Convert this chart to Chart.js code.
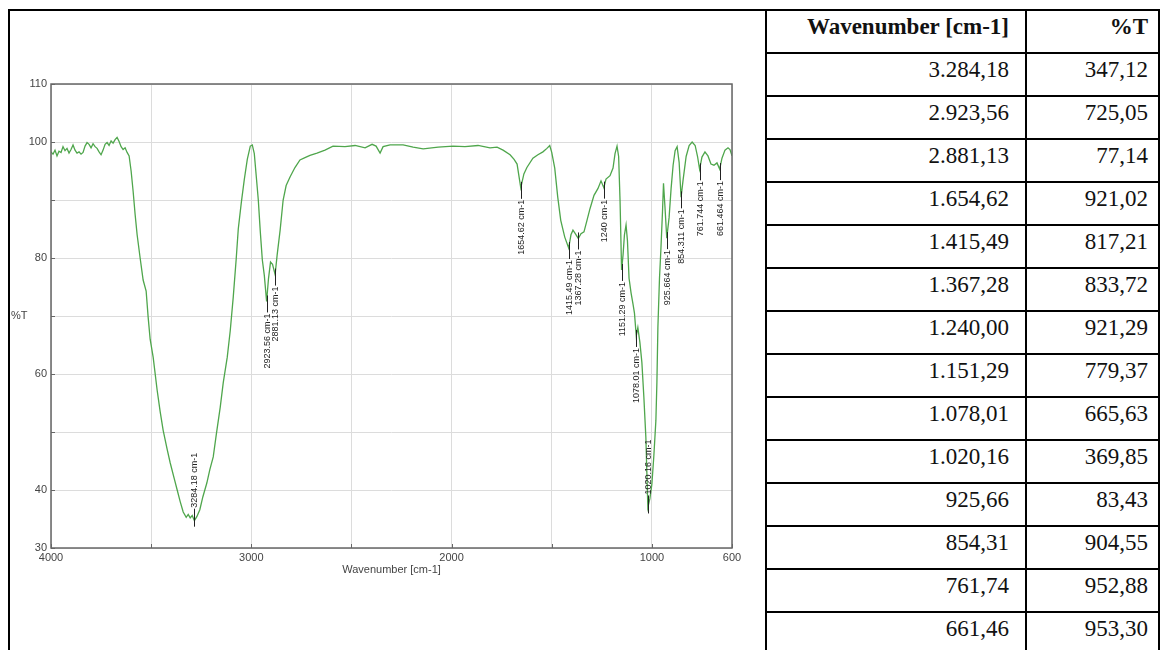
<!DOCTYPE html>
<html>
<head>
<meta charset="utf-8">
<script src="https://cdn.jsdelivr.net/npm/chart.js@4.4.1/dist/chart.umd.min.js"></script>
<style>
  html, body { margin: 0; padding: 0; background: #fff; }
  #page { position: relative; width: 1160px; height: 650px; overflow: hidden; }
  table.peaks {
    position: absolute; left: 8px; top: 9px;
    border-collapse: collapse; table-layout: fixed;
    font-family: "Liberation Serif", "Times New Roman", serif; font-size: 23px; color: #111;
  }
  table.peaks td, table.peaks th {
    border: 2px solid #000; padding: 4px 16px 0 0; height: 37px;
    text-align: right; vertical-align: top; white-space: nowrap; line-height: 24px;
  }
  table.peaks th { font-weight: bold; }
  table.peaks td.c2, table.peaks th.c2 { padding-right: 10px; }
  table.peaks td.chartcell { border-right: 2px solid #000; padding: 0; }
  #chartBox { position: absolute; left: 10px; top: 11px; width: 754px; height: 638px; }
</style>
</head>
<body>
<div id="page">
  <table class="peaks" id="peakTable">
    <colgroup><col style="width:757px"><col style="width:260px"><col style="width:133px"></colgroup>
    <tbody id="tableBody"></tbody>
  </table>
  <div id="chartBox"><canvas id="irChart"></canvas></div>
</div>
<script>
// spectrum
var wavenumbers = [
  4000, 3990, 3980, 3970, 3960, 3950, 3940, 3930, 3920, 3910, 3900, 3890, 3880, 3870, 3860, 3850,
  3840, 3830, 3820, 3810, 3800, 3790, 3780, 3770, 3760, 3750, 3740, 3730, 3720, 3710, 3700, 3690,
  3680, 3670, 3660, 3650, 3640, 3630, 3620, 3610, 3600, 3590, 3580, 3570, 3555, 3540, 3525, 3515,
  3505, 3490, 3470, 3455, 3440, 3420, 3405, 3385, 3370, 3355, 3340, 3325, 3315, 3305, 3295, 3284.18,
  3272, 3257, 3242, 3222, 3207, 3190, 3175, 3155, 3140, 3120, 3105, 3090, 3075, 3065, 3050, 3035,
  3020, 3005, 2995, 2985, 2975, 2965, 2955, 2945, 2935, 2923.56, 2914, 2904, 2894, 2881.13, 2871, 2856,
  2841, 2826, 2806, 2782, 2757, 2732, 2707, 2672, 2632, 2592, 2532, 2482, 2432, 2397, 2377, 2357,
  2342, 2307, 2242, 2192, 2142, 2067, 1993, 1933, 1868, 1808, 1773, 1743, 1708, 1688, 1673, 1654.62,
  1639, 1624, 1594, 1569, 1544, 1524, 1510, 1500, 1485, 1470, 1455, 1435, 1415.49, 1404, 1394, 1384,
  1367.28, 1354, 1339, 1324, 1309, 1289, 1269, 1254, 1240, 1229, 1209, 1194, 1184, 1174, 1166, 1159,
  1151.29, 1144, 1137, 1129, 1122, 1114, 1104, 1094, 1087, 1078.01, 1070, 1060, 1050, 1040, 1030, 1020.16,
  1010, 1000, 990, 980, 975, 970, 962, 955, 947, 942, 935, 925.66, 914, 904, 894, 884,
  874, 864, 854.31, 844, 829, 814, 799, 784, 772, 761.74, 750, 735, 720, 705, 690, 675,
  661.46, 650, 635, 620, 610, 600
];
var transmittance = [
  98.3, 97.9, 98.6, 97.6, 98.4, 98.2, 99.2, 98.5, 98.9, 98.1, 98.7, 99.5, 98.6, 98.1, 98.3, 97.9,
  98.2, 99.3, 99.9, 99.6, 99.0, 99.7, 99.2, 98.9, 98.3, 97.8, 98.6, 99.6, 99.9, 99.4, 100.2, 99.8,
  100.4, 100.8, 100.1, 99.2, 98.7, 99.0, 98.2, 97.6, 95.0, 91.5, 87.5, 84.0, 80.0, 76.2, 74.3, 69.8,
  66.0, 62.9, 57.2, 53.5, 50.3, 47.0, 44.7, 42.0, 40.0, 38.0, 36.2, 35.3, 35.8, 35.2, 35.6, 34.71,
  35.4, 36.6, 38.8, 41.2, 43.5, 45.7, 49.5, 54.3, 58.5, 62.9, 67.5, 73.3, 80.0, 85.0, 89.5, 93.5,
  97.0, 99.3, 99.5, 98.0, 94.0, 90.0, 84.5, 79.7, 77.0, 72.51, 76.5, 79.3, 78.9, 77.14, 80.5, 84.8,
  90.0, 92.5, 94.0, 95.6, 96.9, 97.3, 97.7, 98.1, 98.6, 99.3, 99.2, 99.4, 99.0, 99.6, 99.3, 98.1,
  99.2, 99.5, 99.5, 99.1, 98.8, 99.1, 99.3, 99.2, 99.4, 99.0, 99.1, 98.6, 97.8, 97.0, 96.2, 92.10,
  94.5, 95.6, 97.2, 97.8, 98.3, 98.9, 99.4, 98.2, 95.5, 90.5, 86.5, 83.6, 81.72, 84.0, 84.8, 84.3,
  83.37, 84.2, 84.5, 86.5, 88.5, 90.8, 92.0, 93.3, 92.13, 93.6, 94.2, 95.5, 98.0, 99.3, 97.5, 90.0,
  77.94, 80.5, 84.0, 85.7, 83.0, 76.5, 74.0, 72.0, 70.5, 66.56, 68.0, 65.5, 62.0, 56.0, 49.0, 36.99,
  38.5, 41.0, 46.0, 52.0, 58.5, 68.0, 76.5, 81.5, 88.0, 92.9, 89.0, 83.43, 87.0, 92.0, 96.0, 98.5,
  99.2, 96.5, 90.46, 93.5, 97.5, 99.4, 100.0, 99.4, 97.5, 95.29, 97.4, 98.3, 97.6, 96.2, 96.0, 96.4,
  95.33, 97.2, 98.6, 99.0, 98.7, 97.6
];

// peak picks
var peakWavenumbers = [3284.18, 2923.56, 2881.13, 1654.62, 1415.49, 1367.28, 1240, 1151.29, 1078.01, 1020.16, 925.664, 854.311, 761.744, 661.464];
var peakTransmittance = [34.71, 72.51, 77.14, 92.10, 81.72, 83.37, 92.13, 77.94, 66.56, 36.99, 83.43, 90.46, 95.29, 95.33];
var peakLabels = ["3284.18 cm-1", "2923.56 cm-1", "2881.13 cm-1", "1654.62 cm-1", "1415.49 cm-1", "1367.28 cm-1", "1240 cm-1",
  "1151.29 cm-1", "1078.01 cm-1", "1020.16 cm-1", "925.664 cm-1", "854.311 cm-1", "761.744 cm-1", "661.464 cm-1"];

// axes
var xTickValues = [4000, 3500, 3000, 2500, 2000, 1500, 1000, 600];
var xTickLabels = ["4000", "", "3000", "", "2000", "", "1000", "600"];
var yTickValues = [30, 40, 50, 60, 70, 80, 90, 100, 110];
var yTickLabels = ["30", "40", "", "60", "", "80", "", "100", "110"];

// table on the right
var tableHeaders = ["Wavenumber [cm-1]", "%T"];
var tableWavenumbers = ["3.284,18", "2.923,56", "2.881,13", "1.654,62", "1.415,49", "1.367,28", "1.240,00",
  "1.151,29", "1.078,01", "1.020,16", "925,66", "854,31", "761,74", "661,46"];
var tablePercentT = ["347,12", "725,05", "77,14", "921,02", "817,21", "833,72", "921,29",
  "779,37", "665,63", "369,85", "83,43", "904,55", "952,88", "953,30"];

function renderTable() {
    var rows = [];
    rows.push("<tr><td class='chartcell' rowspan='" + (tableWavenumbers.length + 1) + "'></td>" +
        "<th>" + tableHeaders[0] + "</th><th class='c2'>" + tableHeaders[1] + "</th></tr>");
    for (var i = 0; i < tableWavenumbers.length; i++) {
        rows.push("<tr><td>" + tableWavenumbers[i] + "</td><td class='c2'>" + tablePercentT[i] + "</td></tr>");
    }
    document.getElementById("tableBody").innerHTML = rows.join("");
}

var plotFrame = {
    id: "plotFrame",
    afterDatasetsDraw: function(chart) {
        var ctx = chart.ctx, a = chart.chartArea;
        var xs = chart.scales.x, ys = chart.scales.y;
        ctx.save();
        ctx.strokeStyle = "#666";
        ctx.lineWidth = 1.5;
        ctx.strokeRect(a.left, a.top, a.right - a.left, a.bottom - a.top);
        // short inner tick marks
        ctx.lineWidth = 1;
        ctx.beginPath();
        yTickValues.forEach(function(v) {
            var py = Math.round(ys.getPixelForValue(v)) + 0.5;
            ctx.moveTo(a.left, py); ctx.lineTo(a.left + 4, py);
        });
        xTickValues.forEach(function(v) {
            var px = Math.round(xs.getPixelForValue(v)) + 0.5;
            ctx.moveTo(px, a.bottom); ctx.lineTo(px, a.bottom - 4);
        });
        ctx.stroke();

        // %T title, horizontal
        ctx.fillStyle = "#444";
        ctx.font = "11px 'Liberation Sans', Arial, sans-serif";
        ctx.textAlign = "left";
        ctx.textBaseline = "middle";
        ctx.fillText("%T", 1, (a.top + a.bottom) / 2);

        // peak labels, vertical
        ctx.font = "9px 'Liberation Sans', Arial, sans-serif";
        ctx.fillStyle = "#222";
        ctx.strokeStyle = "#222";
        for (var i = 0; i < peakWavenumbers.length; i++) {
            var px = Math.round(xs.getPixelForValue(peakWavenumbers[i])) + 0.5;
            var py = ys.getPixelForValue(peakTransmittance[i]);
            var above = peakTransmittance[i] < 40;
            ctx.beginPath();
            if (above) {
                ctx.moveTo(px, py + 6); ctx.lineTo(px, py - 12);
            } else {
                ctx.moveTo(px, py - 6); ctx.lineTo(px, py + 11);
            }
            ctx.stroke();
            ctx.save();
            ctx.translate(px, above ? py - 13 : py + 12);
            ctx.rotate(-Math.PI / 2);
            ctx.textAlign = above ? "left" : "right";
            ctx.textBaseline = "middle";
            ctx.fillText(peakLabels[i], 0, 0);
            ctx.restore();
        }
        ctx.restore();
    }
};

function renderChart() {
    var points = wavenumbers.map(function(w, i) { return { x: w, y: transmittance[i] }; });
    new Chart(document.getElementById("irChart"), {
        type: "line",
        data: {
            datasets: [{
                label: "%T",
                data: points,
                borderColor: "#4fa64c",
                borderWidth: 1.3,
                pointRadius: 0,
                tension: 0,
                fill: false
            }]
        },
        options: {
            animation: false,
            responsive: true,
            maintainAspectRatio: false,
            layout: { padding: { top: 73, right: 32, bottom: 72, left: 0 } },
            plugins: { legend: { display: false }, tooltip: { enabled: false } },
            scales: {
                x: {
                    type: "linear",
                    reverse: true,
                    min: 600,
                    max: 4000,
                    afterBuildTicks: function(scale) {
                        scale.ticks = xTickValues.map(function(v) { return { value: v }; });
                    },
                    afterFit: function(scale) { scale.height = 29; },
                    grid: { color: "#dcdcdc", drawTicks: false },
                    border: { display: false },
                    ticks: {
                        autoSkip: false,
                        maxRotation: 0,
                        padding: 3,
                        color: "#444",
                        font: { family: "'Liberation Sans', Arial, sans-serif", size: 11 },
                        callback: function(v) {
                            var i = xTickValues.indexOf(v);
                            return i < 0 ? "" : xTickLabels[i];
                        }
                    },
                    title: {
                        display: true,
                        text: "Wavenumber [cm-1]",
                        color: "#444",
                        font: { family: "'Liberation Sans', Arial, sans-serif", size: 11 },
                        padding: { top: 0, bottom: 0 }
                    }
                },
                y: {
                    min: 30,
                    max: 110,
                    afterBuildTicks: function(scale) {
                        scale.ticks = yTickValues.map(function(v) { return { value: v }; });
                    },
                    afterFit: function(scale) { scale.width = 41; },
                    grid: { color: "#dcdcdc", drawTicks: false },
                    border: { display: false },
                    ticks: {
                        padding: 4,
                        color: "#444",
                        font: { family: "'Liberation Sans', Arial, sans-serif", size: 11 },
                        callback: function(v) {
                            var i = yTickValues.indexOf(v);
                            return i < 0 ? "" : yTickLabels[i];
                        }
                    }
                }
            }
        },
        plugins: [plotFrame]
    });
}

renderTable();
renderChart();
</script>
</body>
</html>
